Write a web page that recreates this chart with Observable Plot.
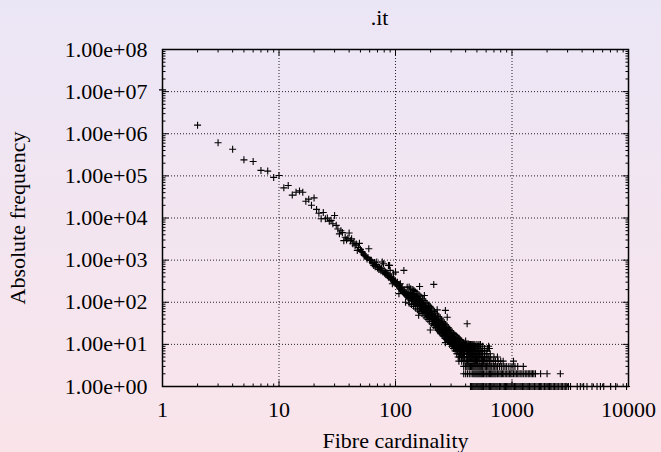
<!DOCTYPE html>
<html><head><meta charset="utf-8">
<script src="https://cdn.jsdelivr.net/npm/d3@7"></script>
<script src="https://cdn.jsdelivr.net/npm/@observablehq/plot@0.6"></script>
<style>
html,body{margin:0;padding:0;}
body{width:661px;height:452px;background:linear-gradient(#ebe6f6,#fae4ea);overflow:hidden}
</style></head><body><div id="chart"></div>
<script>
// ---- data ----
const title = ".it";
const xLabel = "Fibre cardinality";
const yLabel = "Absolute frequency";
const xTicks = [1, 10, 100, 1000, 10000];
const xTickLabels = ["1", "10", "100", "1000", "10000"];
const yTicks = [1, 1e1, 1e2, 1e3, 1e4, 1e5, 1e6, 1e7, 1e8];
const yTickLabels = ["1.00e+00","1.00e+01","1.00e+02","1.00e+03","1.00e+04","1.00e+05","1.00e+06","1.00e+07","1.00e+08"];

// head of the distribution: [cardinality, frequency]
const headPoints = [
 [1,1.1e7],[2,1.6e6],[3,6.1e5],[4,4.3e5],[5,2.4e5],[6,2.2e5],[7,1.35e5],[8,1.3e5],[9,9.2e4],[10,1.02e5],
 [11,5.2e4],[12,5.9e4],[13,3.5e4],[14,4.1e4],[15,4.4e4],[16,4.1e4],[17,2.5e4],[18,2.8e4],[19,2.0e4],[20,3.0e4],
 [21,1.6e4],[22,1.3e4],[23,9.6e3],[24,1.35e4],[25,9.6e3],[26,1.0e4],[27,8.4e3],[28,8.8e3],[29,7.3e3],[30,1.15e4],
 [31,6.7e3],[32,5.5e3],[33,4.2e3],[34,5.0e3],[35,4.5e3],[36,2.9e3],[37,3.5e3],[38,3.0e3],[39,3.3e3],[40,4.4e3],
 [41,2.9e3],[42,3.2e3],[43,2.45e3],[44,2.7e3],[45,2.2e3],[46,2.4e3],[47,1.7e3],[48,2.0e3],[49,2.5e3],[50,1.8e3],
 [51,1.6e3],[52,1.55e3],[53,1.4e3],[54,1.3e3],[55,1.25e3],[56,1.2e3],[57,1.07e3],[58,1.15e3],[59,1.86e3],[60,1.0e3],
 [61,990],[62,1.0e3],[63,900],[64,820],[65,750],[66,880],[67,700],[68,780],[69,900],[70,650],
 [71,700],[72,600],[73,680],[74,620],[75,560],[76,640],[77,900],[78,520],[79,820],[80,560],
 [81,480],[82,520],[83,460],[84,500],[85,430],[86,470],[87,750],[87,395],[88,420],[89,750],[90,570],[90,380],
 [91,360],[92,400],[93,340],[94,275],[95,350],[96,470],[96,330],[97,300],[98,320],[99,290],[100,520],[100,310],
 [101,280],[102,260],[103,275],[104,300],[105,240],[106,250],[107,160],[108,260],[109,210],[110,275],
 [111,220],[112,200],[113,190],[114,230],[115,180],[116,195],[117,170],[118,570],[119,185],[120,160],
 [121,175],[122,100],[123,150],[124,165],[125,140],[126,228],[127,150],[128,130],[129,145]
];

// dense band: [cardinality, frequency]
const bandPoints = [
 [130,165],[130,120],[132,140],[134,170],[134,125],[136,130],[138,150],[138,110],[139,110],[140,135],
 [142,120],[142,160],[144,190],[144,105],[146,115],[148,130],[148,95],[150,110],[152,100],[152,140],
 [154,132],[154,85],[156,95],[158,49],[158,110],[160,90],[160,120],[161,237],[162,80],[164,94],[164,70],
 [166,85],[168,100],[168,65],[170,75],[172,88],[172,60],[175,64],[175,80],[177,145],[178,70],[180,75],[180,55],
 [183,62],[185,70],[185,50],[188,58],[190,65],[190,45],[193,52],[195,60],[195,40],[199,76],[199,22],[200,50],
 [203,45],[203,60],[206,40],[209,48],[209,35],[212,42],[213,265],[215,38],[215,30],[218,44],[220,46],[220,28],
 [223,35],[226,40],[226,25],[228,66],[230,32],[233,36],[233,22],[236,28],[240,33],[240,20],[243,26],
 [246,30],[246,18],[250,32],[250,24],[253,20],[256,27],[256,16],[260,22],[263,25],[263,15],[266,19],
 [268,64],[268,11],[270,21],[270,14],[274,17],[278,44],[278,20],[280,15],[280,12],[284,18],[288,21],[288,13],
 [292,16],[292,10],[296,14],[300,17],[300,11],[305,13],[305,9],[310,15],[310,10],[315,12],[315,8],
 [320,14],[320,9],[325,11],[325,7],[330,13],[330,8],[335,10],[335,6],[340,12],[340,7],[345,9],[345,5],
 [350,14],[350,11],[350,6],[355,8],[355,5],[360,12],[360,7],[365,8],[370,9],[370,6],[375,7],[380,11],
 [390,9],[400,12],[412,31],[430,10],[453,10],[480,9],[536,10],[620,8],[630,9],[640,8],
 // upper edge of the band
 [131,230],[135,210],[141,200],[147,180],[153,165],[159,150],[165,135],[171,120],[176,110],[182,100],
 [187,92],[192,85],[197,80],[204,72],[210,65],[216,60],[222,55],[229,50],[235,46],[242,42],[248,38],
 [255,35],[262,32],[269,29],[276,27],[283,25],[290,23],[298,21],[306,19],[314,18],[322,17],[331,16],
 [339,15],[348,14],[357,13],[366,12],[376,11],[386,11],[396,10],[408,10],[420,9],[435,9],[450,8],[465,8],
 // lower edge of the band
 [131,95],[137,88],[143,80],[149,72],[155,66],[162,60],[169,54],[176,48],[183,43],[190,39],[197,35],
 [205,31],[213,28],[221,25],[230,22],[238,20],[247,18],[256,16],[265,14],[275,13],[285,12],[295,11],
 [306,10],[318,9],[330,8],[343,7],[356,6],[370,5],[385,4],
 // body of the band
 [133,150],[137,140],[141,125],[145,130],[149,110],[151,125],[155,105],[157,120],[159,100],[163,105],
 [165,90],[167,78],[169,92],[171,70],[173,82],[174,72],[176,68],[179,80],[181,65],[182,72],[184,60],
 [186,66],[187,55],[189,62],[191,58],[192,50],[194,56],[196,48],[198,55],[201,45],[202,52],[205,48],
 [207,44],[208,38],[211,45],[214,40],[217,36],[219,40],[221,35],[224,38],[225,32],[227,30],[229,36],
 [231,28],[232,34],[234,30],[237,32],[238,26],[241,29],[244,24],[245,30],[248,26],[251,28],[252,22],
 [255,24],[258,21],[259,25],[261,19],[264,22],[267,20],[271,18],[272,23],[275,16],[277,19],[279,17],
 [282,20],[285,15],[287,17],[290,14],[293,18],[295,13],[298,15],[302,14],[303,12],[307,11],[308,15],
 [312,13],[313,10],[317,12],[318,10],[322,11],[323,9],[327,12],[328,10],[332,9],[333,11],[337,8],
 [338,10],[342,9],[344,11],[347,8],[352,9],[353,7],[358,8],[362,9],[363,6],[367,7],[372,8],[373,6],
 [377,9],[378,5],[382,6],[383,8],[388,7],[392,6],[397,8],[403,7],[407,6],[413,9],[418,7],[423,6],[428,8]
];

// tail rows of small integer frequencies: cardinalities for each frequency
const row10 = [330,345,360,380,395,410,425,440,453,465,480,500,520,536];
const row9  = [340,370,395,410,420,430,440,455,470,485,505,520,560];
const row8  = [350,375,400,410,425,435,445,455,465,480,490,505,520,540,580,620];
const row7  = [355,380,405,415,425,435,445,460,470,480,490,500,515,530,545,560,600];
const row6  = [360,385,410,420,430,440,450,460,470,480,490,500,510,525,540,560,580,610,650];
const row5  = [365,390,410,420,430,440,450,460,470,480,490,500,510,520,530,545,560,580,600,625,650,700,750];
const row4  = [350,370,395,405,415,425,435,445,455,465,475,485,495,505,520,530,545,560,570,585,600,620,
               640,660,690,720,760,800,840,1030];
const row3  = [385,400,410,420,430,440,450,460,470,480,490,500,510,520,530,540,550,560,575,590,605,620,
               635,650,670,690,710,730,750,780,810,840,870,900,940,980,1020,1060,1120,1250];
const row2  = [385,400,415,430,445,460,470,480,490,500,510,520,530,540,550,560,570,585,600,610,625,640,
               655,670,685,700,715,730,750,770,790,810,830,850,875,900,925,950,975,1000,1030,1060,1090,
               1120,1150,1190,1220,1260,1300,1340,1380,1420,1460,1500,1540,1590,1760,2000,2600];
const row1  = [440,450,460,470,480,490,500,510,520,530,540,550,560,570,585,598,610,625,640,655,670,685,
               700,715,730,745,760,780,800,820,840,860,880,900,920,940,960,980,1000,1025,1050,1075,1100,
               1125,1150,1175,1200,1230,1260,1290,1320,1350,1380,1415,1450,1485,1520,1560,1600,1640,1680,
               1720,1760,1800,1850,1900,1950,2000,2050,2100,2150,2200,2260,2320,2380,2440,2500,2580,2650,
               2720,2800,2870,2950,3050,3180,3630,3860,4120,4400,4860,5370,5740,6130,7030,7760,9620];

// ---- build table ----
const points = [];
for (const [x, y] of headPoints) points.push({x, y});
for (const [x, y] of bandPoints) points.push({x, y});
[[10,row10],[9,row9],[8,row8],[7,row7],[6,row6],[5,row5],[4,row4],[3,row3],[2,row2],[1,row1]]
  .forEach(([y, xs]) => xs.forEach(x => points.push({x, y})));

const minor = (majors) => majors.slice(0, -1).flatMap(m => [2,3,4,5,6,7,8,9].map(k => m * k));
const xMinor = minor(xTicks);
const yMinor = minor(yTicks);
const xGrid = xTicks.slice(1, -1);
const yGrid = yTicks.slice(1, -1);

const plusSym = {draw(c){c.moveTo(-3.5,0);c.lineTo(3.5,0);c.moveTo(0,-3.5);c.lineTo(0,3.5);}};
const seg = (dx, dy) => ({draw(c){c.moveTo(0,0);c.lineTo(dx,dy);}});
const font = "'Liberation Serif', 'Times New Roman', serif";
const fs = 22;

const tickMarks = (data, key, anchor, sym) =>
  Plot.dot(data, {[key]: d => d, frameAnchor: anchor, symbol: sym, stroke: "black", fill: "none", strokeWidth: 1});

const chart = Plot.plot({
  width: 661, height: 452,
  marginLeft: 162, marginRight: 33, marginTop: 49, marginBottom: 66,
  style: {background: "transparent", fontFamily: font, color: "black"},
  x: {type: "log", domain: [1, 10000], axis: null},
  y: {type: "log", domain: [1, 1e8], axis: null},
  marks: [
    Plot.ruleX(xGrid, {x: d => d, stroke: "black", strokeDasharray: "1,2", strokeWidth: 1, strokeOpacity: 0.85}),
    Plot.ruleY(yGrid, {y: d => d, stroke: "black", strokeDasharray: "1,2", strokeWidth: 1, strokeOpacity: 0.85}),
    tickMarks(yTicks, "y", "left", seg(6, 0)),
    tickMarks(yTicks, "y", "right", seg(-6, 0)),
    tickMarks(yMinor, "y", "left", seg(3, 0)),
    tickMarks(yMinor, "y", "right", seg(-3, 0)),
    tickMarks(xTicks, "x", "bottom", seg(0, -6)),
    tickMarks(xTicks, "x", "top", seg(0, 6)),
    tickMarks(xMinor, "x", "bottom", seg(0, -3)),
    tickMarks(xMinor, "x", "top", seg(0, 3)),
    Plot.frame({stroke: "black", strokeWidth: 1.5}),
    Plot.dot(points, {x: "x", y: "y", symbol: plusSym, stroke: "black", fill: "none", strokeWidth: 1.1}),
    Plot.text(yTicks, {y: d => d, text: (d, i) => yTickLabels[i], frameAnchor: "left", dx: -15, textAnchor: "end", lineAnchor: "middle", fontSize: fs, fontFamily: font, fill: "black"}),
    Plot.text(xTicks, {x: d => d, text: (d, i) => xTickLabels[i], frameAnchor: "bottom", dy: 23, lineAnchor: "middle", fontSize: fs, fontFamily: font, fill: "black"}),
    Plot.text([title], {text: d => d, frameAnchor: "top", dy: -32, dx: -16, lineAnchor: "middle", fontSize: fs, fontFamily: font, fill: "black"}),
    Plot.text([xLabel], {text: d => d, frameAnchor: "bottom", dy: 54, lineAnchor: "middle", fontSize: fs, fontFamily: font, fill: "black"}),
    Plot.text([yLabel], {text: d => d, frameAnchor: "left", dx: -145, rotate: -90, textAnchor: "middle", lineAnchor: "middle", fontSize: fs, fontFamily: font, fill: "black"})
  ]
});
document.getElementById("chart").appendChild(chart);
</script></body></html>
